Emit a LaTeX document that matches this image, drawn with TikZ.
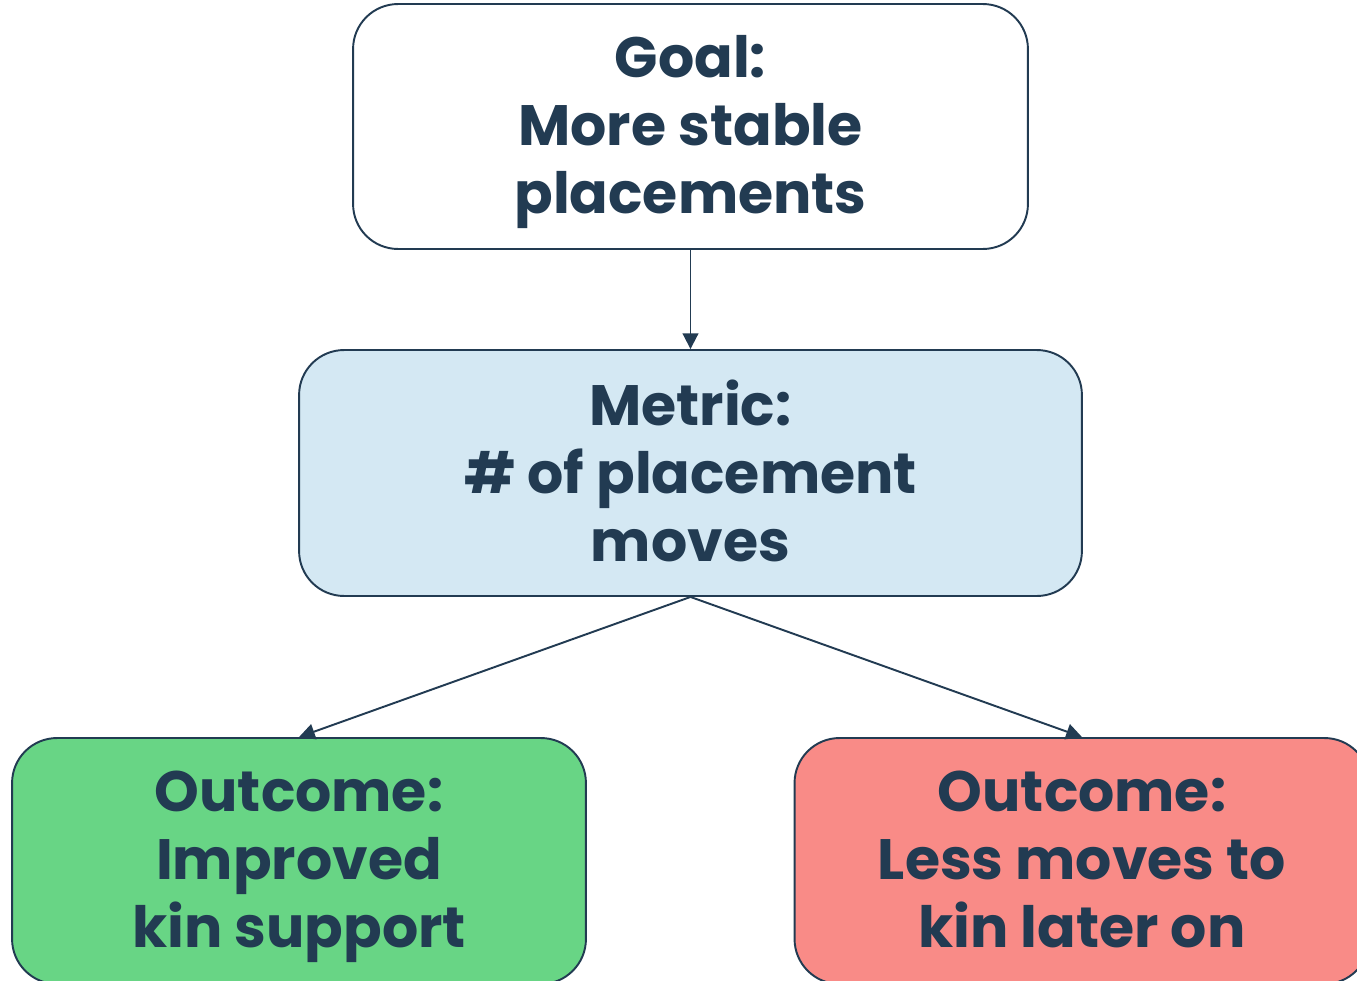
\documentclass[tikz,border=0pt]{standalone}
\usepackage{fontspec}
\setmainfont{Poppins}
\usepackage{tikz}
\usetikzlibrary{arrows.meta,positioning}

\definecolor{navy}{HTML}{223B52}
\definecolor{metricblue}{HTML}{D4E8F3}
\definecolor{goodgreen}{HTML}{68D585}
\definecolor{badred}{HTML}{F98B87}

\begin{document}
\begin{tikzpicture}[x=0.02cm, y=-0.02cm,
	box/.style={draw=navy, line width=1.1pt, rounded corners=0.9cm, align=center,
		text=navy, font=\fontsize{32.4}{38.7}\selectfont\bfseries, inner sep=0pt,
		text depth=2.5pt},
	link/.style={draw=navy, line width=1.1pt, -{Triangle[length=9pt, width=9pt]}}]
	\useasboundingbox (0,0) rectangle (1357,981); % Rand wie im Original
	\clip (0,0) rectangle (1357,981);

	\node[box, fill=white, minimum width=13.5cm, minimum height=4.9cm] (goal) at (690.5,126.5)
		{Goal:\\More stable\\placements};
	\node[box, fill=metricblue, minimum width=15.66cm, minimum height=4.92cm] (metric) at (690.5,473)
		{Metric:\\\# of placement\\moves};
	\node[box, fill=goodgreen, minimum width=11.48cm, minimum height=4.92cm] (good) at (299,861)
		{Outcome:\\Improved\\kin support};
	\node[box, fill=badred, minimum width=11.5cm, minimum height=4.92cm] (bad) at (1082,861)
		{Outcome:\\Less moves to\\kin later on};

	\draw[link] (goal.south) -- (metric.north);
	\draw[link] (metric.south) -- (good.north);
	\draw[link] (metric.south) -- (bad.north);
\end{tikzpicture}
\end{document}
